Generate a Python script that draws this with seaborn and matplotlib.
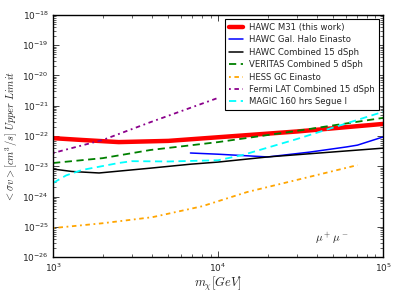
import numpy as np
import pandas as pd
import matplotlib
matplotlib.use("Agg")
import matplotlib.pyplot as plt
import seaborn as sns
from matplotlib.ticker import LogLocator, LogFormatterSciNotation, FixedLocator, NullFormatter

# ---- data (log10 of cross-section) ----
m31_x = [1000, 1500, 2500, 5000, 10000, 30000, 100000]
m31_y = [-22.07, -22.13, -22.20, -22.16, -22.04, -21.85, -21.60]

gal_x = [6800, 10000, 20000, 36000, 60000, 70000, 100000]
gal_y = [-22.56, -22.60, -22.69, -22.53, -22.36, -22.30, -22.03]

comb_x = [1000, 1300, 1900, 3900, 6800, 10000, 20000, 100000]
comb_y = [-23.09, -23.17, -23.22, -23.06, -22.93, -22.86, -22.69, -22.40]

ver_x = [1000, 2000, 3900, 10000, 30000, 100000]
ver_y = [-22.89, -22.73, -22.46, -22.20, -21.83, -21.40]

hess_x = [1000, 2000, 4000, 8000, 15000, 30000, 70000]
hess_y = [-25.04, -24.88, -24.68, -24.32, -23.85, -23.45, -22.96]

fermi_x = [1000, 2000, 3900, 10000]
fermi_y = [-22.56, -22.13, -21.54, -20.74]

magic_x = [1000, 1200, 1500, 2500, 3000, 5000, 10000, 14000, 30000, 100000]
magic_y = [-23.55, -23.30, -23.12, -22.89, -22.83, -22.84, -22.80, -22.63, -22.10, -21.20]

y_decades = [-26, -25, -24, -23, -22, -21, -20, -19, -18]
x_decades = [3, 4, 5]

labels = ["HAWC M31 (this work)", "HAWC Gal. Halo Einasto", "HAWC Combined 15 dSph",
          "VERITAS Combined 5 dSph", "HESS GC Einasto", "Fermi LAT Combined 15 dSph",
          "MAGIC 160 hrs Segue I"]

sns.set_style("white")
plt.rcParams.update({
    "mathtext.fontset": "cm",
    "xtick.direction": "in", "ytick.direction": "in",
    "xtick.top": True, "ytick.right": True,
    "xtick.bottom": True, "ytick.left": True,
})
plt.rcParams["font.family"] = ["DejaVu Sans"]

fig = plt.figure(figsize=(3.99, 2.99), dpi=100)
ax = fig.add_axes([0.133, 0.14, 0.827, 0.81])

series = [
    (m31_x, m31_y, dict(color="red", lw=3.2, ls="-")),
    (gal_x, gal_y, dict(color="blue", lw=1.1, ls="-")),
    (comb_x, comb_y, dict(color="black", lw=1.1, ls="-")),
    (ver_x, ver_y, dict(color="green", lw=1.3, ls=(0, (4, 2.5)))),
    (hess_x, hess_y, dict(color="orange", lw=1.3, ls=(0, (1, 2, 2.5, 2)))),
    (fermi_x, fermi_y, dict(color="darkmagenta", lw=1.3, ls=(0, (1, 2, 2.5, 2)))),
    (magic_x, magic_y, dict(color="cyan", lw=1.3, ls=(0, (4, 2.5)))),
]
for (xs, ys, kw), lab in zip(series, labels):
    df = pd.DataFrame({"x": xs, "y": 10.0 ** np.array(ys)})
    sns.lineplot(data=df, x="x", y="y", ax=ax, label=lab, color=kw["color"],
                 linewidth=kw["lw"], linestyle=kw["ls"], estimator=None, sort=False)

ax.set_xscale("log")
ax.set_yscale("log")
ax.set_xlim(1e3, 1e5)
ax.set_ylim(1e-26, 1e-18)
ax.yaxis.set_major_locator(FixedLocator([10.0 ** d for d in y_decades]))
ax.xaxis.set_major_locator(FixedLocator([10.0 ** d for d in x_decades]))
ax.yaxis.set_minor_locator(LogLocator(base=10, subs=np.arange(2, 10), numticks=100))
ax.xaxis.set_minor_locator(LogLocator(base=10, subs=np.arange(2, 10), numticks=100))
ax.xaxis.set_minor_formatter(NullFormatter())
ax.yaxis.set_minor_formatter(NullFormatter())
ax.xaxis.set_major_formatter(LogFormatterSciNotation())
ax.yaxis.set_major_formatter(LogFormatterSciNotation())
ax.tick_params(which="major", length=4, width=0.6, labelsize=6.5, pad=3)
ax.tick_params(which="minor", length=2, width=0.5)
for s in ax.spines.values():
    s.set_linewidth(1.0)
    s.set_color("black")

ax.set_xlabel(r"$m_{\chi} [GeV]$", fontsize=9, labelpad=1)
ax.set_ylabel(r"$<\sigma v> [cm^3/s]\ Upper\ Limit$", fontsize=7.5, labelpad=2)
ax.text(0.795, 0.06, r"$\mu^+\mu^-$", transform=ax.transAxes, fontsize=8)

leg = ax.legend(loc="upper right", fontsize=6.1, frameon=True, fancybox=False,
                edgecolor="black", framealpha=1, handlelength=1.6, handletextpad=0.8,
                borderpad=0.45, labelspacing=0.4, borderaxespad=0.5)
leg.get_frame().set_linewidth(0.8)

fig.savefig("out.png", dpi=100)
